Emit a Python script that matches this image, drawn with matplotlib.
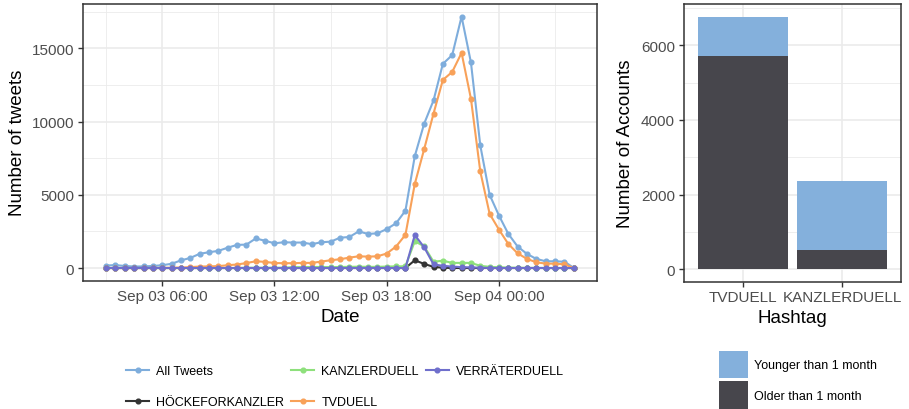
import pandas as pd
import matplotlib
matplotlib.use('Agg')
import matplotlib.pyplot as plt
import matplotlib.dates as mdates
from matplotlib.ticker import MultipleLocator

plt.rcParams['font.family'] = ['Liberation Sans', 'DejaVu Sans']

# half-hour bins, Sep 03 03:00 -> Sep 04 04:00
times = pd.date_range('2017-09-03 03:00', '2017-09-04 04:00', freq='30min')

all_tweets = [170, 200, 140, 100, 110, 140, 190, 290, 520, 690,
              970, 1080, 1170, 1390, 1580, 1600, 2020, 1860, 1690, 1760,
              1740, 1740, 1630, 1760, 1800, 2070, 2120, 2500, 2330, 2370,
              2660, 3060, 3920, 7650, 9860, 11450, 13950, 14550, 17180, 14050,
              8380, 5000, 3580, 2330, 1460, 960, 620, 460, 460, 430, 10]
hocke = [0] * 33 + [530, 280, 80, 20] + [0] * 14
kanzler = ([0] * 15 + [20, 20, 20, 20, 20,
                       60, 60, 70, 70, 60, 70, 80, 90, 80, 80, 100, 110,
                       120, 1830, 1480, 430, 500, 350, 350, 350, 150, 80, 50,
                       30, 20, 10, 10, 0, 0, 0, 0])
tvduell = [0, 0, 0, 0, 0, 0, 10, 20, 30, 60,
           100, 110, 130, 190, 240, 340, 460, 420, 340, 330,
           330, 350, 350, 440, 530, 600, 710, 800, 780, 800,
           990, 1470, 2270, 5750, 8120, 10550, 12850, 13400, 14700, 11570,
           6600, 3700, 2620, 1640, 1000, 620, 390, 300, 300, 250, 0]
verrater = [0] * 33 + [2250, 1420, 250, 150, 100, 60, 40, 20] + [0] * 10

series_names = ['All Tweets', 'HÖCKEFORKANZLER', 'KANZLERDUELL', 'TVDUELL', 'VERRÄTERDUELL']
series_values = [all_tweets, hocke, kanzler, tvduell, verrater]
series_colors = ['#7eaddc', '#333333', '#8ee07c', '#f8a159', '#6f6fcc']

hashtags = ['TVDUELL', 'KANZLERDUELL']
older = [5720, 500]
younger = [1050, 1850]

GRID = '#ebebeb'
BORDER = '#333333'
TICKTXT = '#4d4d4d'


def style_bw(ax):
    for s in ax.spines.values():
        s.set_color(BORDER)
        s.set_linewidth(1.1)
    ax.set_axisbelow(True)
    ax.grid(which='major', color=GRID, linewidth=1.2)
    ax.grid(which='minor', color=GRID, linewidth=0.6)
    ax.tick_params(which='major', length=3.8, width=1.0, color=BORDER,
                   labelcolor=TICKTXT, labelsize=11, pad=2.5)
    ax.tick_params(which='minor', length=0)


fig = plt.figure(figsize=(9.09, 4.10), dpi=100)
ax1 = fig.add_axes([0.091, 0.3132, 0.566, 0.6746])
ax2 = fig.add_axes([0.752, 0.3105, 0.2396, 0.677])

# left: tweets over time
for name, vals, col in zip(series_names, series_values, series_colors):
    ax1.plot(times, vals, color=col, lw=1.5, marker='o', markersize=3.4, label=name)
ax1.margins(x=0.05, y=0.05)
ax1.xaxis.set_major_locator(mdates.HourLocator(byhour=[0, 6, 12, 18]))
ax1.xaxis.set_minor_locator(mdates.HourLocator(byhour=[3, 9, 15, 21]))
ax1.xaxis.set_major_formatter(mdates.DateFormatter('%b %d %H:%M'))
ax1.yaxis.set_major_locator(MultipleLocator(5000))
ax1.yaxis.set_minor_locator(MultipleLocator(2500))
style_bw(ax1)
ax1.set_xlabel('Date', fontsize=13.5, labelpad=3)
ax1.set_ylabel('Number of tweets', fontsize=13.5, labelpad=4)

leg1 = fig.legend(loc='upper left', bbox_to_anchor=(0.139, 0.107), ncol=3,
                  frameon=False, fontsize=9, handlelength=1.85, handletextpad=0.55,
                  columnspacing=0.55, labelspacing=1.5, borderpad=0, borderaxespad=0)

# right: account age per hashtag
x = range(len(hashtags))
ax2.bar(x, older, width=0.9, color='#47464c', label='Older than 1 month')
ax2.bar(x, younger, width=0.9, bottom=older, color='#84b0dc', label='Younger than 1 month')
top = max(o + y for o, y in zip(older, younger))
ax2.set_xlim(-0.6, len(hashtags) - 0.4)
ax2.set_ylim(-0.05 * top, 1.05 * top)
ax2.set_xticks(list(x))
ax2.set_xticklabels(hashtags)
ax2.yaxis.set_major_locator(MultipleLocator(2000))
ax2.yaxis.set_minor_locator(MultipleLocator(1000))
style_bw(ax2)
ax2.set_xlabel('Hashtag', fontsize=13.5, labelpad=3)
ax2.set_ylabel('Number of Accounts', fontsize=13.5, labelpad=5)

h, l = ax2.get_legend_handles_labels()
fig.legend(h[::-1], l[::-1], loc='upper left', bbox_to_anchor=(719 / 909, 1 - 352 / 410),
           frameon=False, fontsize=9, handlelength=2.32, handleheight=3.0,
           handletextpad=0.45, labelspacing=0.24, borderpad=0, borderaxespad=0)

fig.savefig('out.png', dpi=100)
